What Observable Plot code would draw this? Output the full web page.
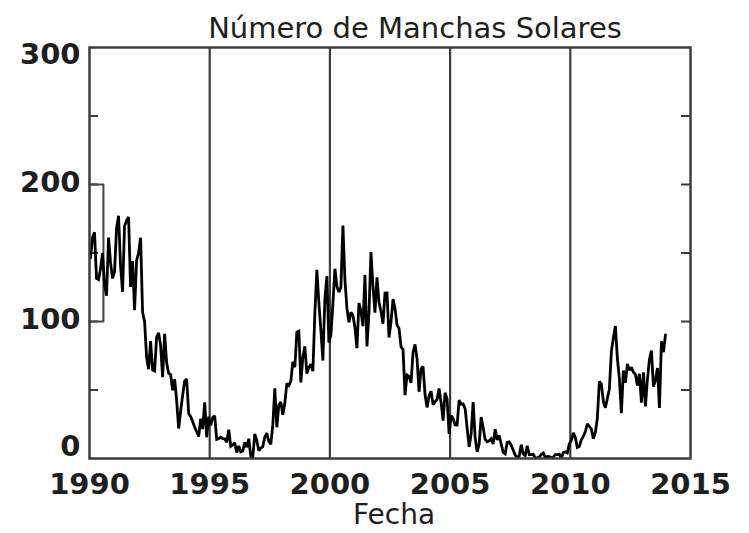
<!DOCTYPE html>
<html>
<head>
<meta charset="utf-8">
<script src="https://cdn.jsdelivr.net/npm/d3@7"></script>
<script src="https://cdn.jsdelivr.net/npm/@observablehq/plot@0.6"></script>
<style>
  html, body { margin: 0; padding: 0; background: #fff; }
  #chart { width: 749px; height: 533px; }
</style>
</head>
<body>
<div id="chart"></div>
<script>
// ---- data (monthly sunspot number) ----
const titleText = "Número de Manchas Solares";
const xLabelText = "Fecha";
const startYear = 1990;
const monthlySunspots = [
  // 1990
  146.5, 161.2, 165.1, 131.4, 130.6, 138.5, 150.0, 126.9, 118.8, 161.3, 143.1, 131.4,
  // 1991
  136.5, 167.9, 177.2, 140.7, 121.7, 169.7, 173.7, 176.3, 125.3, 144.1, 108.2, 144.4,
  // 1992
  150.0, 161.1, 106.7, 99.8, 73.8, 65.2, 85.7, 64.5, 63.9, 88.7, 91.8, 82.6,
  // 1993
  59.3, 91.0, 69.8, 62.2, 61.3, 49.8, 57.9, 42.4, 21.9, 34.7, 46.3, 56.6,
  // 1994
  58.0, 32.9, 30.5, 27.0, 22.8, 19.5, 16.0, 29.0, 21.5, 41.0, 15.5, 30.5,
  // 1995
  24.2, 29.9, 31.1, 14.0, 14.5, 15.6, 14.5, 14.3, 11.8, 21.1, 9.0, 10.0,
  // 1996
  11.5, 4.4, 9.2, 4.8, 5.5, 11.8, 8.2, 14.4, 1.6, 0.9, 17.9, 13.3,
  // 1997
  5.7, 7.6, 8.7, 15.5, 18.5, 12.7, 10.4, 24.4, 51.3, 22.8, 39.0, 41.2,
  // 1998
  31.9, 40.3, 54.8, 53.4, 56.3, 70.7, 66.6, 92.2, 92.9, 55.5, 74.0, 81.9,
  // 1999
  62.0, 66.3, 68.8, 63.7, 106.4, 137.7, 113.5, 93.7, 71.5, 116.7, 133.2, 84.6,
  // 2000
  90.1, 112.9, 138.5, 125.5, 121.6, 124.9, 170.1, 130.5, 109.7, 99.4, 106.8, 104.4,
  // 2001
  95.6, 80.6, 113.5, 107.7, 96.6, 134.0, 81.8, 106.4, 150.7, 125.5, 106.5, 132.2,
  // 2002
  114.1, 107.4, 98.4, 120.7, 120.8, 88.3, 99.6, 116.4, 109.6, 97.5, 95.0, 81.6,
  // 2003
  79.5, 46.2, 61.0, 60.0, 55.2, 77.4, 83.3, 72.7, 48.7, 65.5, 67.3, 46.5,
  // 2004
  37.3, 45.8, 49.1, 39.3, 41.5, 43.2, 51.1, 40.9, 27.7, 48.0, 43.5, 17.9,
  // 2005
  31.3, 29.2, 24.5, 24.4, 42.6, 39.6, 39.9, 36.4, 22.1, 8.5, 18.0, 41.2,
  // 2006
  15.3, 4.9, 10.6, 30.2, 22.3, 13.9, 12.2, 12.9, 14.4, 10.5, 21.4, 13.6,
  // 2007
  16.8, 10.7, 4.5, 3.4, 11.7, 12.1, 9.7, 6.0, 2.4, 0.9, 1.7, 10.1,
  // 2008
  3.3, 2.1, 9.3, 2.9, 2.9, 3.1, 0.5, 0.5, 1.1, 2.9, 4.1, 0.8,
  // 2009
  1.5, 1.4, 0.7, 0.8, 2.9, 2.9, 3.2, 0.0, 4.3, 4.8, 4.1, 10.8,
  // 2010
  13.2, 18.8, 15.4, 8.0, 8.7, 13.6, 16.1, 19.6, 25.2, 23.5, 21.6, 14.5,
  // 2011
  19.0, 29.4, 56.2, 54.4, 41.6, 37.0, 43.9, 50.6, 78.0, 88.0, 96.7, 73.0,
  // 2012
  58.3, 33.1, 64.2, 55.2, 69.0, 64.5, 66.5, 63.0, 61.4, 53.3, 61.8, 40.8,
  // 2013
  62.9, 38.1, 57.9, 72.4, 78.7, 52.5, 57.0, 66.0, 36.9, 85.6, 77.6, 90.3
];
// small outline drawn near the start of the series
const boxX = [1990, 1990.58, 1990.58, 1990];
const boxY = [200, 200, 100, 100];

const xDomain = [1990, 2015];
const yDomain = [0, 300];
const gridYears = [1995, 2000, 2005, 2010];
const xTickYears = [1990, 1995, 2000, 2005, 2010, 2015];
const yMinorTicks = [50, 100, 150, 200, 250];

// ---- build ----
const series = monthlySunspots.map((v, i) => ({ t: startYear + (i + 0.5) / 12, v }));
const box = boxX.map((x, i) => ({ x, y: boxY[i] }));

const frameW = 749 - 89 - 59;
const tickLen = 9;
const labelFont = { fontSize: 29, fontWeight: "bold", fill: "#1e1e1e" };

const chart = Plot.plot({
  width: 749,
  height: 533,
  marginLeft: 89,
  marginRight: 59,
  marginTop: 47,
  marginBottom: 75,
  x: { domain: xDomain },
  y: { domain: yDomain },
  style: { fontFamily: "DejaVu Sans", background: "white", color: "#1e1e1e", overflow: "visible" },
  marks: [
    Plot.ruleX(gridYears, { stroke: "#3c3c3c", strokeWidth: 2.2 }),
    Plot.tickY(yMinorTicks, { y: d => d, insetRight: frameW - tickLen, stroke: "#3c3c3c", strokeWidth: 2 }),
    Plot.tickY(yMinorTicks, { y: d => d, insetLeft: frameW - tickLen, stroke: "#3c3c3c", strokeWidth: 2 }),
    Plot.line(box, { x: "x", y: "y", stroke: "#444", strokeWidth: 2 }),
    Plot.line(series, { x: "t", y: "v", stroke: "black", strokeWidth: 2.8, strokeLinejoin: "miter", strokeMiterlimit: 2 }),
    Plot.frame({ stroke: "#3c3c3c", strokeWidth: 2.5 }),
    Plot.axisY([0], { anchor: "left", tickSize: 0, tickPadding: 9, dy: -12, label: null, ...labelFont }),
    Plot.axisY([100, 200], { anchor: "left", tickSize: 0, tickPadding: 9, dy: -2, label: null, ...labelFont }),
    Plot.axisY([300], { anchor: "left", tickSize: 0, tickPadding: 9, dy: 7, label: null, ...labelFont }),
    Plot.axisX(xTickYears, { anchor: "bottom", tickSize: 0, tickPadding: 15, label: null, tickFormat: d => String(d), ...labelFont }),
    Plot.text([titleText], { text: d => d, frameAnchor: "top", lineAnchor: "middle", dy: -19, dx: 25, fontSize: 29, fill: "#1e1e1e" }),
    Plot.text([xLabelText], { text: d => d, frameAnchor: "bottom", lineAnchor: "middle", dy: 57, dx: 4, fontSize: 28, fill: "#1e1e1e" })
  ]
});
document.getElementById("chart").appendChild(chart);
</script>
</body>
</html>
